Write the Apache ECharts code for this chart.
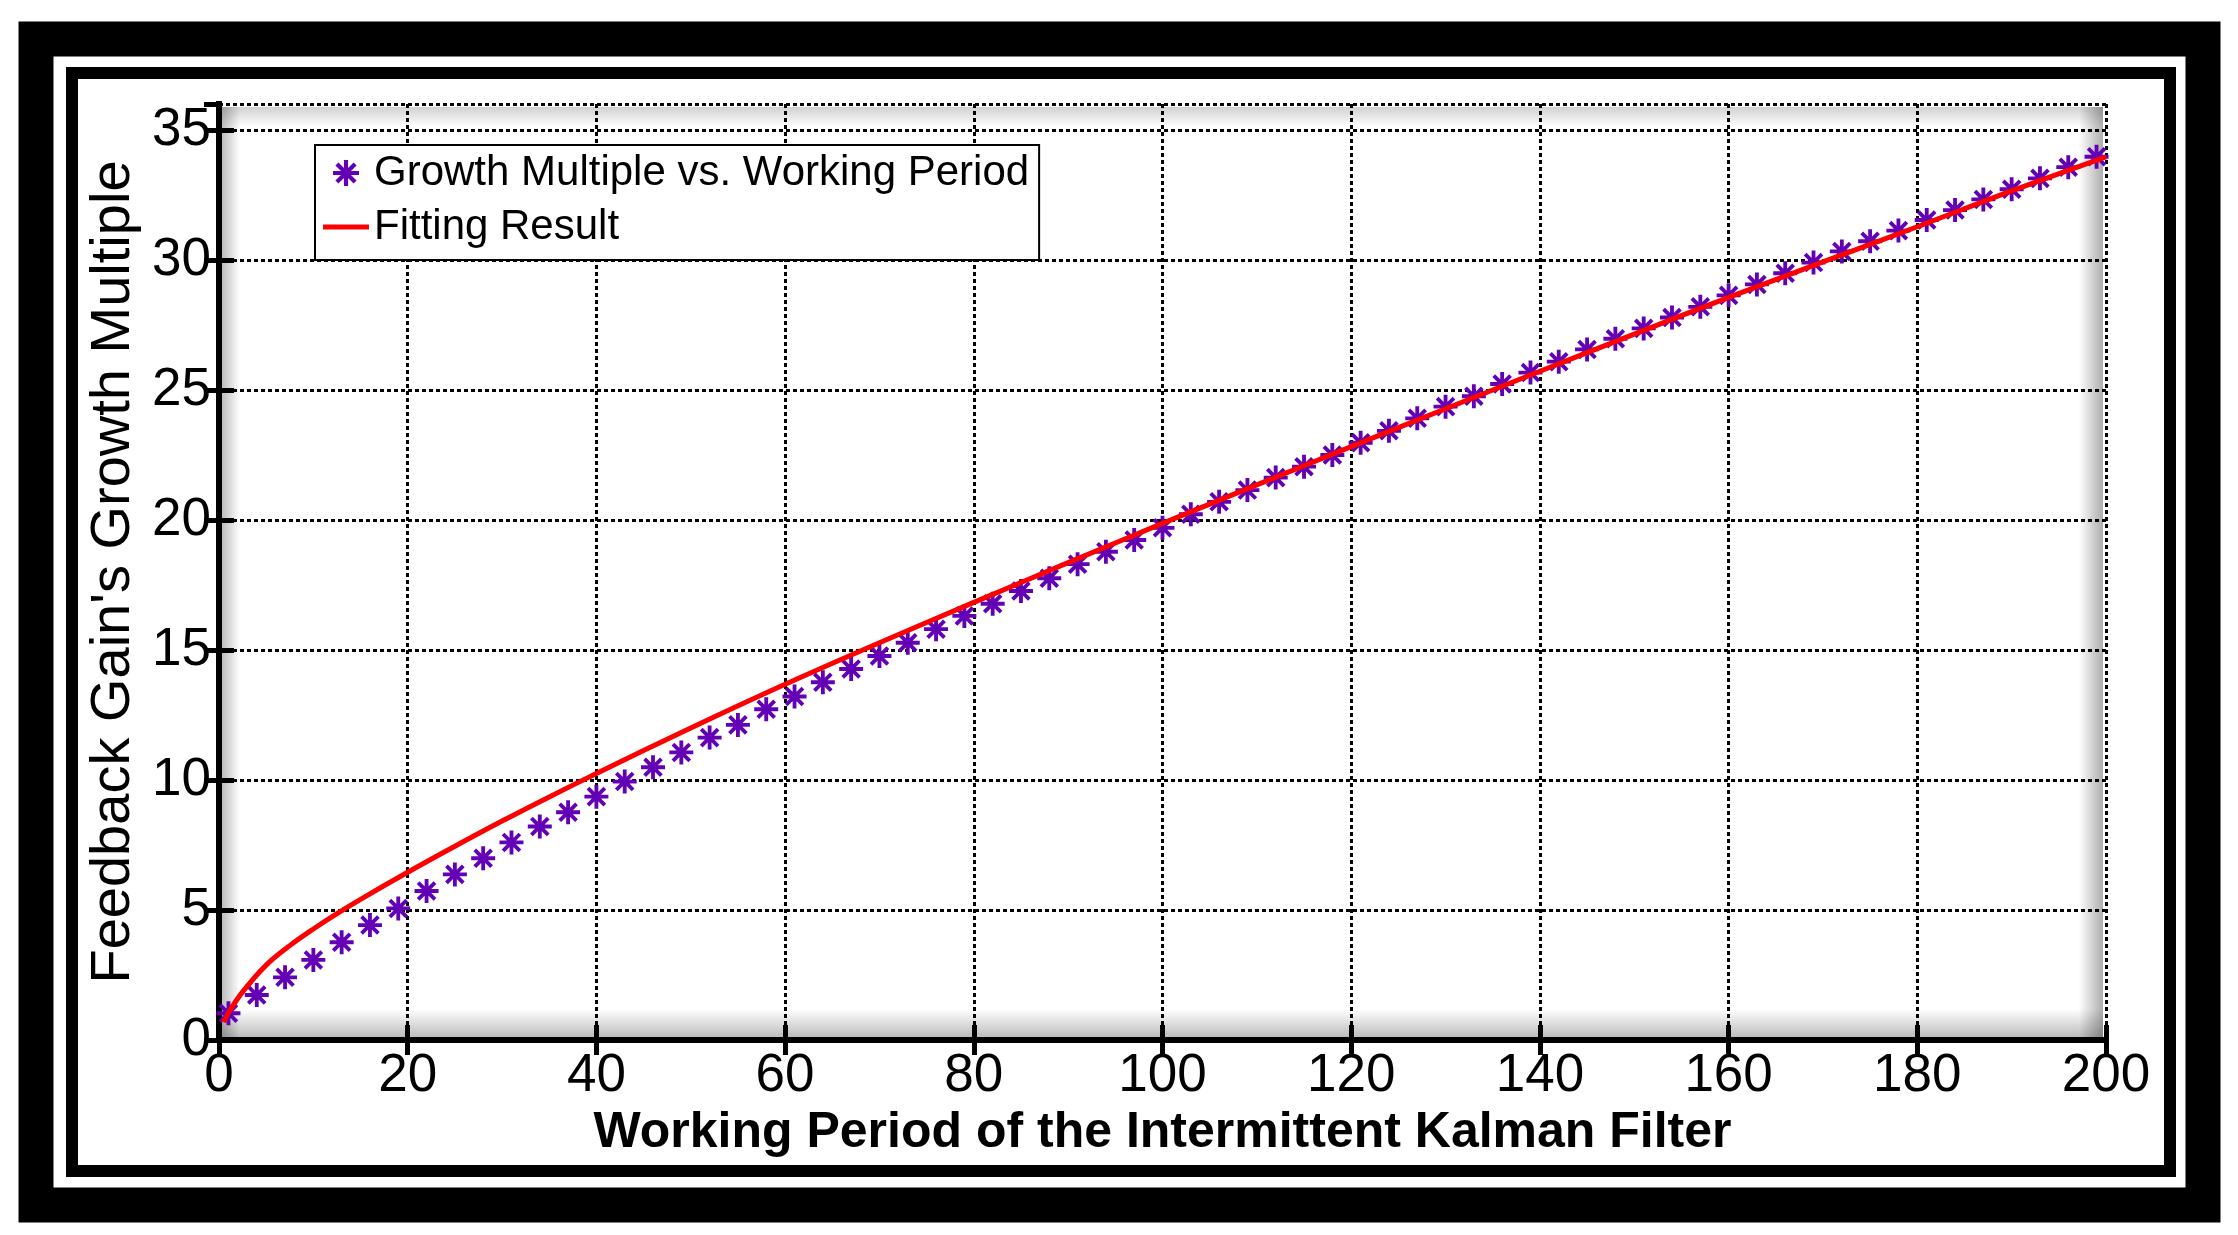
<!DOCTYPE html>
<html>
<head>
<meta charset="utf-8">
<script src="https://cdn.jsdelivr.net/npm/echarts@6/dist/echarts.min.js"></script>
<style>
html,body{margin:0;padding:0;background:#fff;}
#chart{width:2238px;height:1235px;}
</style>
</head>
<body>
<div id="chart"></div>
<script>
// ---- data ----
const xTicks = [0, 20, 40, 60, 80, 100, 120, 140, 160, 180, 200];
const yTicks = [0, 5, 10, 15, 20, 25, 30, 35];

const growthX = [1,4,7,10,13,16,19,22,25,28,31,34,37,40,43,46,49,52,55,58,61,64,67,70,73,76,79,82,85,88,91,94,97,100,103,106,109,112,115,118,121,124,127,130,133,136,139,142,145,148,151,154,157,160,163,166,169,172,175,178,181,184,187,190,193,196,199];
const growthY = [1.03,1.73,2.41,3.08,3.76,4.42,5.06,5.73,6.37,6.99,7.60,8.21,8.76,9.36,9.94,10.49,11.06,11.63,12.12,12.72,13.21,13.76,14.27,14.77,15.28,15.80,16.31,16.78,17.27,17.76,18.30,18.78,19.23,19.70,20.22,20.70,21.15,21.63,22.05,22.50,22.97,23.43,23.91,24.36,24.76,25.23,25.67,26.09,26.56,26.97,27.37,27.79,28.20,28.64,29.06,29.49,29.90,30.33,30.72,31.13,31.54,31.92,32.33,32.72,33.14,33.57,33.97];

const fitX = [0.5, 1, 2.5, 5, 7.5, 10, 12.5, 15, 20, 25, 30, 35, 40, 50, 60, 70, 80, 90, 100, 110, 120, 130, 140, 150, 160, 170, 180, 190, 200];
const fitY = [0.68, 1.05, 1.85, 2.88, 3.63, 4.27, 4.86, 5.41, 6.45, 7.45, 8.42, 9.35, 10.25, 12.0, 13.68, 15.28, 16.83, 18.36, 19.87, 21.35, 22.82, 24.28, 25.72, 27.15, 28.56, 29.93, 31.28, 32.66, 33.97];

const seriesNames = ['Growth Multiple vs. Working Period', 'Fitting Result'];
const axisNames = { x: 'Working Period of the Intermittent Kalman Filter', y: "Feedback Gain's Growth Multiple" };

// ---- build ----
const FONT = "'Liberation Sans', Arial, Helvetica, sans-serif";
const STAR = 'path://M0 42H100V58H0Z M42 0H58V100H42Z M9.3 20.7L20.7 9.3L90.7 79.3L79.3 90.7Z M79.3 9.3L90.7 20.7L20.7 90.7L9.3 79.3Z';
const LINE_ICON = 'path://M0 0H92V10H0Z';

const G = { left: 219, top: 104, width: 1887, height: 936 };

const scatterData = growthX.map((x, i) => [x, growthY[i]]);
const fitData = fitX.map((x, i) => [x, fitY[i]]);

function shade(x, y, w, h, dir, a) {
  return {
    type: 'rect', silent: true, z: -1,
    shape: { x: x, y: y, width: w, height: h },
    style: {
      fill: new echarts.graphic.LinearGradient(dir[0], dir[1], dir[2], dir[3], [
        { offset: 0, color: 'rgba(0,0,0,' + a + ')' },
        { offset: 1, color: 'rgba(0,0,0,0)' }
      ])
    }
  };
}

const chart = echarts.init(document.getElementById('chart'), null, { renderer: 'canvas' });

const axisCommon = {
  axisLine: { show: true, lineStyle: { color: '#000', width: 6, cap: 'square' } },
  axisTick: { show: true, inside: true, length: 15, lineStyle: { color: '#000', width: 5 } },
};

const option = {
  backgroundColor: '#ffffff',
  animation: false,
  textStyle: { fontFamily: FONT },
  grid: { left: G.left, top: G.top, width: G.width, height: G.height, containLabel: false },
  graphic: [
    { type: 'rect', silent: true, z: 10, shape: { x: 36, y: 39, width: 2167, height: 1166 },
      style: { fill: 'none', stroke: '#000', lineWidth: 35 } },
    { type: 'rect', silent: true, z: 10, shape: { x: 72, y: 73, width: 2098, height: 1098 },
      style: { fill: 'none', stroke: '#000', lineWidth: 12 } },
    shade(G.left + 3, G.top + 3, 18, G.height - 6, [0, 0, 1, 0], 0.26),
    shade(G.left + 3, G.top + 3, G.width - 6, 20, [0, 0, 0, 1], 0.18),
    shade(G.left + G.width - 27, G.top + 3, 24, G.height - 6, [1, 0, 0, 0], 0.32),
    shade(G.left + 3, G.top + G.height - 31, G.width - 6, 28, [0, 1, 0, 0], 0.26)
  ],
  legend: {
    orient: 'vertical',
    left: 315, top: 145,
    padding: [7, 10, 12, 8],
    itemGap: 12,
    itemWidth: 46, itemHeight: 26,
    itemTextGap: 6,
    backgroundColor: '#fff',
    borderColor: '#000', borderWidth: 2, borderRadius: 0,
    textStyle: { fontFamily: FONT, fontSize: 42, color: '#000' },
    data: [
      { name: seriesNames[0], icon: STAR },
      { name: seriesNames[1], icon: LINE_ICON, itemStyle: { color: '#ff0000' } }
    ]
  },
  xAxis: [
    Object.assign({
      type: 'value', position: 'bottom', min: xTicks[0], max: xTicks[xTicks.length - 1], interval: 20,
      name: axisNames.x, nameLocation: 'middle', nameGap: 65,
      nameTextStyle: { fontFamily: FONT, fontSize: 50, fontWeight: 'bold', color: '#000' },
      axisLabel: { color: '#000', fontFamily: FONT, fontSize: 53, margin: 10 },
      splitLine: { show: true, lineStyle: { color: '#000', width: 3, type: [4, 3] } }
    }, axisCommon),
    Object.assign({
      type: 'value', position: 'top', min: xTicks[0], max: xTicks[xTicks.length - 1], interval: 20,
      axisLabel: { show: false }, splitLine: { show: false }
    }, axisCommon)
  ],
  yAxis: [
    Object.assign({
      type: 'value', position: 'left', min: yTicks[0], max: 36, interval: 5,
      name: axisNames.y, nameLocation: 'middle', nameGap: 73,
      nameTextStyle: { fontFamily: FONT, fontSize: 56, color: '#000' },
      axisLabel: { color: '#000', fontFamily: FONT, fontSize: 53, margin: 8, showMaxLabel: false,
        formatter: v => (yTicks.indexOf(v) >= 0 ? String(v) : '') },
      splitLine: { show: true, lineStyle: { color: '#000', width: 3, type: [4, 3] } }
    }, axisCommon),
    Object.assign({
      type: 'value', position: 'right', min: yTicks[0], max: 36, interval: 5,
      axisLabel: { show: false }, splitLine: { show: false }
    }, axisCommon)
  ],
  series: [
    {
      name: seriesNames[0], type: 'scatter', data: scatterData,
      symbol: STAR, symbolSize: 24, z: 3,
      itemStyle: { color: '#6300b5', opacity: 1 }
    },
    {
      name: seriesNames[1], type: 'line', data: fitData,
      showSymbol: false, symbol: 'none', smooth: 0.35, z: 4,
      lineStyle: { color: '#ff0000', width: 5 },
      itemStyle: { color: '#ff0000' }
    }
  ]
};
chart.setOption(option);
</script>
</body>
</html>
